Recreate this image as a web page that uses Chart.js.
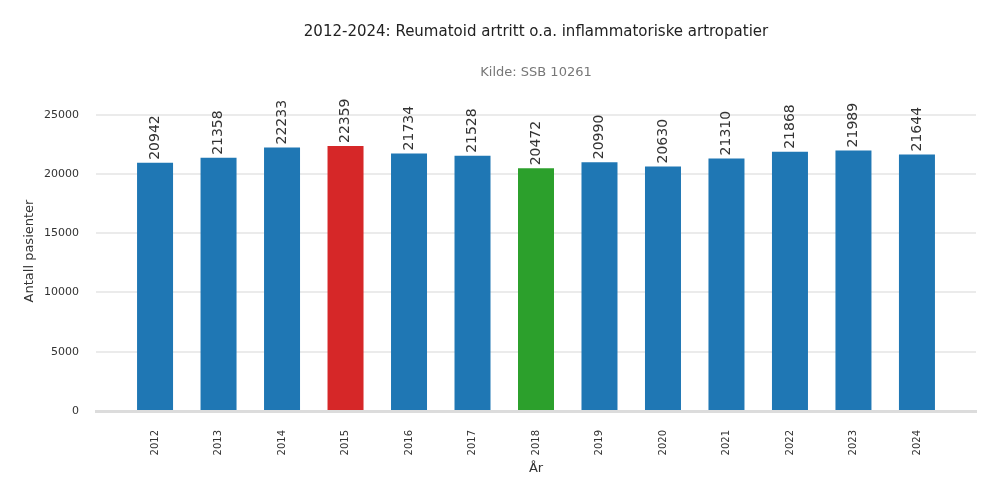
<!DOCTYPE html>
<html>
<head>
<meta charset="utf-8">
<script src="https://cdn.jsdelivr.net/npm/chart.js@4"></script>
<style>
  body { margin: 0; background: #fff; }
  #wrap { width: 1000px; height: 500px; }
</style>
</head>
<body>
<div id="wrap"><canvas id="chart"></canvas></div>
<script>
const years = ["2012", "2013", "2014", "2015", "2016", "2017", "2018", "2019", "2020", "2021", "2022", "2023", "2024"];
const patients = [20942, 21358, 22233, 22359, 21734, 21528, 20472, 20990, 20630, 21310, 21868, 21989, 21644];
const yTicks = [0, 5000, 10000, 15000, 20000, 25000];

const titleText = "2012-2024: Reumatoid artritt o.a. inflammatoriske artropatier";
const subtitleText = "Kilde: SSB 10261";

// highest year red, lowest green, rest blue
const maxVal = Math.max(...patients);
const minVal = Math.min(...patients);
const barColors = patients.map((v) =>
  v === maxVal ? "#d62728" : v === minVal ? "#2ca02c" : "#1f77b4"
);

const FONT = "DejaVu Sans";

// title + subtitle centred over the plot area
const titles = {
  id: "titles",
  afterDraw(chart) {
    const { ctx, chartArea } = chart;
    const cx = (chartArea.left + chartArea.right) / 2;
    ctx.save();
    ctx.textAlign = "center";
    ctx.textBaseline = "middle";
    ctx.fillStyle = "#222";
    ctx.font = "15px " + FONT;
    ctx.fillText(titleText, cx, 32);
    ctx.fillStyle = "#777";
    ctx.font = "13px " + FONT;
    ctx.fillText(subtitleText, cx, 73);
    ctx.restore();
  },
};

// vertical value labels on top of bars
const barLabels = {
  id: "barLabels",
  afterDatasetsDraw(chart) {
    const { ctx } = chart;
    const meta = chart.getDatasetMeta(0);
    ctx.save();
    ctx.fillStyle = "#333";
    ctx.font = "14px " + FONT;
    ctx.textAlign = "left";
    ctx.textBaseline = "middle";
    meta.data.forEach((bar, i) => {
      ctx.save();
      ctx.translate(bar.x, bar.y - 3);
      ctx.rotate(-Math.PI / 2);
      ctx.fillText(String(patients[i]), 0, 0);
      ctx.restore();
    });
    ctx.restore();
  },
};

new Chart(document.querySelector("#chart"), {
  type: "bar",
  data: {
    datasets: [
      {
        data: patients.map((v, i) => ({ x: i, y: v })),
        backgroundColor: barColors,
        barPercentage: 0.567,
        categoryPercentage: 1,
      },
    ],
  },
  options: {
    responsive: true,
    maintainAspectRatio: false,
    animation: false,
    layout: { padding: { top: 91, right: 24, left: 0, bottom: 0 } },
    plugins: {
      legend: { display: false },
      tooltip: { enabled: false },
    },
    scales: {
      x: {
        type: "linear",
        offset: false,
        min: -0.93,
        max: 12.93,
        afterBuildTicks: (scale) => {
          scale.ticks = years.map((y, i) => ({ value: i }));
        },
        afterFit: (scale) => {
          scale.height = 89;
        },
        grid: { display: false, drawTicks: false },
        border: { display: true, color: "#dcdcdc", width: 3 },
        ticks: {
          minRotation: 90,
          maxRotation: 90,
          padding: 19,
          color: "#333",
          font: { family: FONT, size: 10 },
          callback: (v) => years[v],
        },
        title: {
          display: true,
          text: "År",
          color: "#333",
          font: { family: FONT, size: 13 },
          padding: { top: 0, bottom: 24 },
        },
      },
      y: {
        min: 0,
        max: 27000,
        afterBuildTicks: (scale) => {
          scale.ticks = yTicks.map((v) => ({ value: v }));
        },
        afterFit: (scale) => {
          scale.width = 96;
        },
        grid: { color: "#ebebeb", lineWidth: 2, drawTicks: false },
        border: { display: false },
        ticks: {
          padding: 17,
          color: "#333",
          font: { family: FONT, size: 11 },
          callback: (v) => String(v),
        },
        title: {
          display: true,
          text: "Antall pasienter",
          color: "#333",
          font: { family: FONT, size: 13 },
          padding: { top: 22, bottom: 0 },
        },
      },
    },
  },
  plugins: [titles, barLabels],
});
</script>
</body>
</html>
